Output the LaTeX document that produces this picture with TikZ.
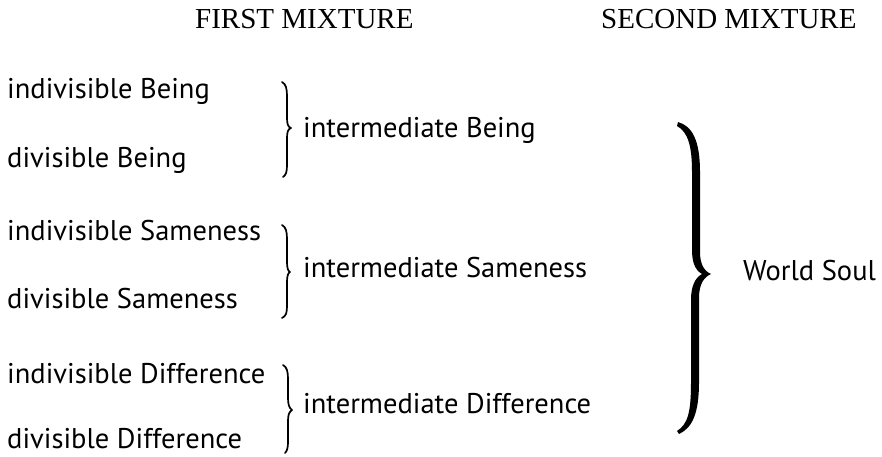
\documentclass[tikz,border=0pt]{standalone}
\usepackage{fontspec}
\setmainfont{Liberation Serif}
\newfontfamily\bodyfont{PT Sans}
\begin{document}
\begin{tikzpicture}[x=1pt,y=-1pt,
  head/.style={inner sep=0pt,anchor=base west,font=\fontsize{29}{30}\selectfont},
  lbl/.style={inner sep=0pt,anchor=base west,font=\bodyfont\fontsize{28.5}{30}\selectfont},
  thinbrace/.style={line width=1.7pt,line cap=round,line join=round}]
\useasboundingbox (0,0) rectangle (882,456);
% headings
\node[head] (h1) at (195,28) {FIRST MIXTURE};
\node[head] (h2) at (601,28) {SECOND MIXTURE};
% left column
\node[lbl] (ib) at (7,98) {indivisible Being};
\node[lbl] (db) at (7,167) {divisible Being};
\node[lbl] (is) at (7,240) {indivisible Sameness};
\node[lbl] (ds) at (7,308) {divisible Sameness};
\node[lbl] (id) at (7,383) {indivisible Difference};
\node[lbl] (dd) at (7,448) {divisible Difference};
% intermediates
\node[lbl] (mb) at (303,137) {intermediate Being};
\node[lbl] (ms) at (303,277) {intermediate Sameness};
\node[lbl] (md) at (303,413) {intermediate Difference};
% world soul
\node[lbl] (ws) at (743,280) {World Soul};
% small braces
\draw[thinbrace] (282,82) .. controls (286,84) and (287,89) .. (287,96) -- (287,118)
  .. controls (287,124) and (288,127) .. (291,128) .. controls (288,129) and (287,132) .. (287,138)
  -- (287,165) .. controls (287,172) and (286,175) .. (283,177);
\draw[thinbrace] (282,225) .. controls (286,227) and (287,232) .. (287,239) -- (287,262)
  .. controls (287,268) and (288,271) .. (290,272) .. controls (288,273) and (287,276) .. (287,282)
  -- (287,306) .. controls (287,313) and (286,316) .. (282,318);
\draw[thinbrace] (283,365) .. controls (287,367) and (288,372) .. (288,379) -- (288,398)
  .. controls (288,404) and (289,408) .. (292,410) .. controls (289,412) and (288,415) .. (288,421)
  -- (288,442) .. controls (288,448) and (287,451) .. (285,453);
% big brace
\fill (678,122) .. controls (692,126) and (700,140) .. (700,172) -- (700,252)
  .. controls (700,264) and (704,271) .. (711,274) .. controls (704,277) and (699,284) .. (699,298)
  -- (699,382) .. controls (699,414) and (692,428) .. (679,434)
  -- (677,431) .. controls (688,424) and (691,412) .. (691,382) -- (691,300)
  .. controls (691,286) and (695,278) .. (702,274) .. controls (695,270) and (692,262) .. (692,250)
  -- (692,172) .. controls (692,146) and (688,132) .. (677,126) -- cycle;
\end{tikzpicture}
\end{document}
